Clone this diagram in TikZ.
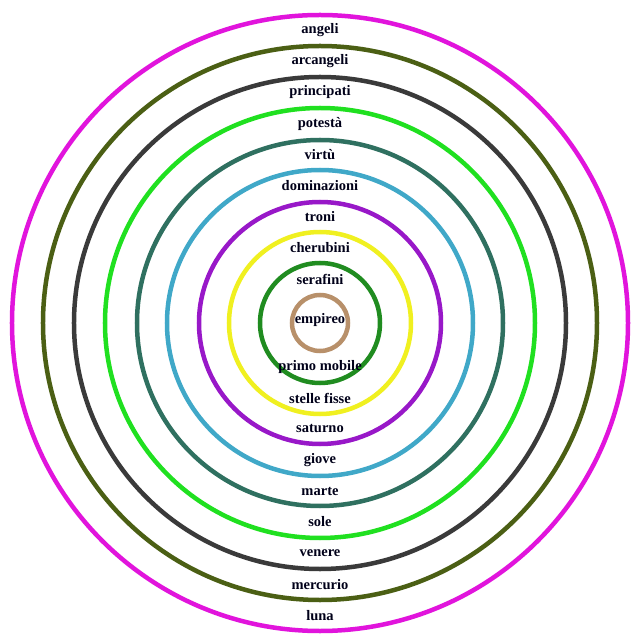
\documentclass[tikz,border=0pt]{standalone}
\usepackage{fontspec}
\setmainfont{Liberation Serif}
\usepackage{tikz}

\definecolor{cmag}{RGB}{225,20,220}
\definecolor{colive}{RGB}{75,95,20}
\definecolor{cgray}{RGB}{58,58,58}
\definecolor{cgreen}{RGB}{32,224,32}
\definecolor{cteal}{RGB}{47,112,96}
\definecolor{cblue}{RGB}{64,168,200}
\definecolor{cpurple}{RGB}{152,24,200}
\definecolor{cyellow}{RGB}{240,240,32}
\definecolor{cdkgreen}{RGB}{32,140,32}
\definecolor{ctan}{RGB}{184,144,106}

\begin{document}
\begin{tikzpicture}[x=1pt,y=1pt]
	 \tikzstyle{ring}=[line width=4.5pt]
	 \tikzstyle{choir}=[font=\bfseries\fontsize{14.5}{17}\selectfont,inner sep=0pt,text=black!90!blue]
	 \useasboundingbox[fill=white] (-320,-311) rectangle (313,323);

	 % spheres, from outside in
	 \foreach \r/\c in {308/cmag,277/colive,246/cgray,215/cgreen,183/cteal,
	   153/cblue,121/cpurple,91/cyellow,60/cdkgreen,28/ctan}
	   \draw[ring,\c] (0,0) circle (\r);

	 % angelic orders
	 \foreach \nm/\txt/\r in {angeli/angeli/292.5,arcangeli/arcangeli/261.5,
	   principati/principati/230.5,potesta/potestà/199,virtu/virtù/168,
	   dominazioni/dominazioni/137,troni/troni/106,cherubini/cherubini/75.5,
	   serafini/serafini/44}
	   \node[choir] (\nm) at (0,\r) {\txt};

	 % heavens
	 \foreach \nm/\txt/\r in {luna/luna/292.5,mercurio/mercurio/261.5,
	   venere/venere/230.5,sole/sole/199,marte/marte/168,giove/giove/137,
	   saturno/saturno/106,stelle/stelle fisse/75.5,primo/primo mobile/44}
	   \node[choir] (\nm) at (0,-\r) {\txt};

	 \node[choir] (empireo) at (0,3) {empireo};
\end{tikzpicture}
\end{document}
